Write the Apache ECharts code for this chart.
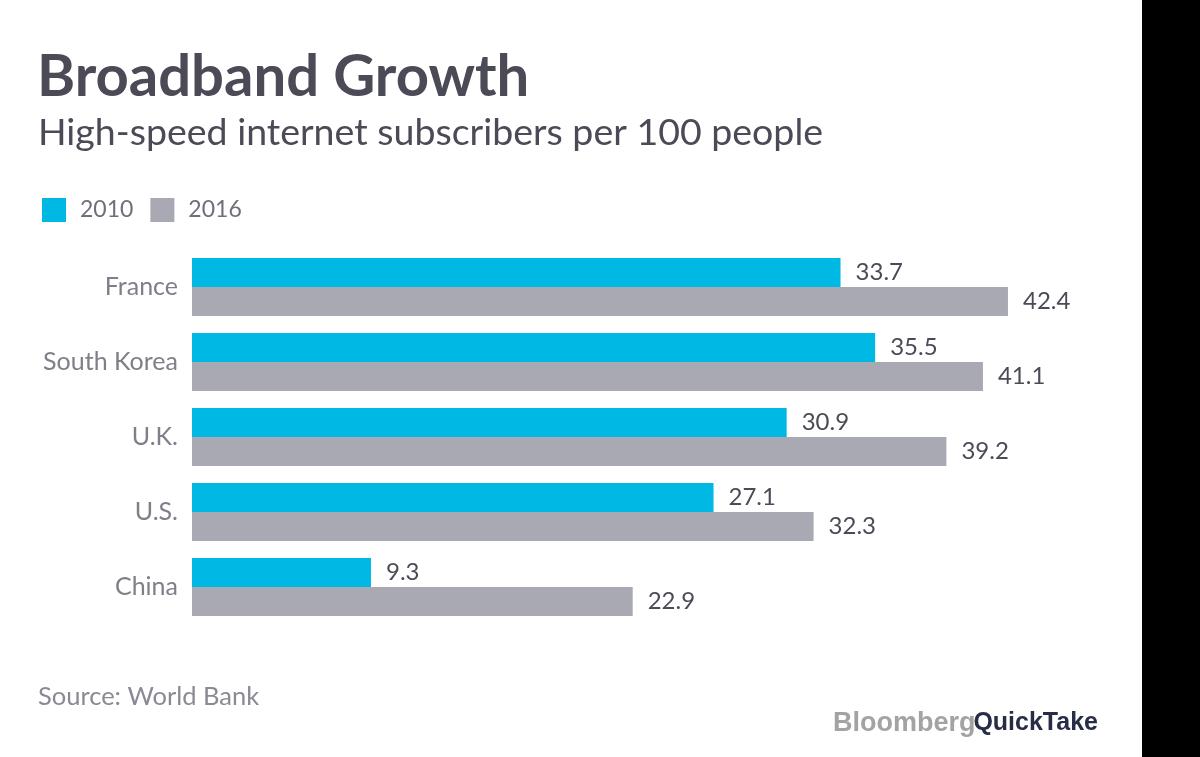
<!DOCTYPE html>
<html>
<head>
<meta charset="utf-8">
<title>Broadband Growth</title>
<script src="https://cdn.jsdelivr.net/npm/echarts@6/dist/echarts.min.js"></script>
<style>
  html, body { margin: 0; padding: 0; background: #fff; }
  #chart { width: 1200px; height: 757px; }
</style>
</head>
<body>
<div id="chart"></div>
<script>
// data
const categories = ['France', 'South Korea', 'U.K.', 'U.S.', 'China'];
const values2010 = [33.7, 35.5, 30.9, 27.1, 9.3];
const values2016 = [42.4, 41.1, 39.2, 32.3, 22.9];
const seriesNames = ['2010', '2016'];

const FONT = 'Lato, "Open Sans", sans-serif';
const TEXT_DARK = '#4b4a57';

const chart = echarts.init(document.getElementById('chart'), null, { renderer: 'canvas' });

function barSeries(name, data, color) {
  return {
    name: name,
    type: 'bar',
    data: data,
    barWidth: 29,
    barGap: '0%',
    itemStyle: { color: color },
    label: {
      show: true,
      position: 'right',
      distance: 15,
      fontFamily: FONT,
      fontSize: 24,
      color: '#4b4b57'
    }
  };
}

chart.setOption({
  animation: false,
  backgroundColor: '#ffffff',
  title: [
    {
      text: 'Broadband Growth',
      left: 37, top: 48, padding: 0,
      textStyle: { fontFamily: FONT, fontWeight: 'bold', fontSize: 58, color: TEXT_DARK }
    },
    {
      text: 'High-speed internet subscribers per 100 people',
      left: 38, top: 114, padding: 0,
      textStyle: { fontFamily: FONT, fontWeight: 'normal', fontSize: 37.5, color: TEXT_DARK }
    },
    {
      text: 'Source: World Bank',
      left: 38, top: 684, padding: 0,
      textStyle: { fontFamily: FONT, fontWeight: 'normal', fontSize: 25.5, color: '#8a8a95' }
    }
  ],
  legend: {
    data: seriesNames,
    left: 42, top: 198, padding: 0,
    icon: 'rect',
    itemWidth: 24, itemHeight: 24, itemGap: 17,
    textStyle: { fontFamily: FONT, fontSize: 23, color: '#6e6f79', padding: [0, 0, 0, 9] }
  },
  grid: { left: 192, right: 142, top: 249.5, bottom: 132.5, containLabel: false },
  xAxis: { type: 'value', min: 0, max: 45, show: false },
  yAxis: {
    type: 'category',
    data: categories,
    inverse: true,
    axisLine: { show: false },
    axisTick: { show: false },
    splitLine: { show: false },
    axisLabel: { fontFamily: FONT, fontSize: 25, color: '#7e7f89', margin: 14 }
  },
  series: [
    barSeries(seriesNames[0], values2010, '#00b8e4'),
    barSeries(seriesNames[1], values2016, '#a9a9b4')
  ],
  graphic: [
    { type: 'rect', shape: { x: 1142, y: 0, width: 58, height: 757 }, style: { fill: '#000' }, silent: true },
    {
      type: 'text', left: 833, top: 710, silent: true,
      style: { text: 'Bloomberg', font: 'bold 27px "Liberation Sans", Arial, sans-serif', fill: '#a3a3a3' }
    },
    {
      type: 'text', right: 102, top: 711, silent: true,
      style: { text: 'QuickTake', font: 'bold 25px "Liberation Sans", Arial, sans-serif', fill: '#272d45' }
    }
  ]
});
</script>
</body>
</html>
